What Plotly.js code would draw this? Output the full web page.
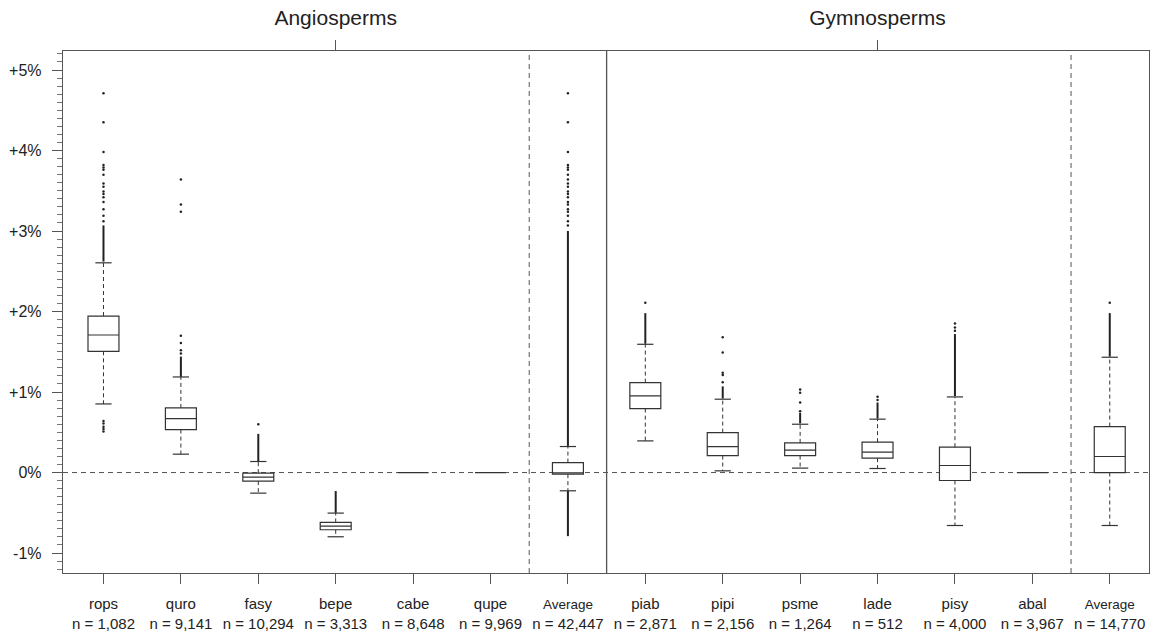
<!DOCTYPE html>
<html>
<head>
<meta charset="utf-8">
<script src="https://cdn.plot.ly/plotly-3.0.1.min.js"></script>
<style>html,body{margin:0;padding:0;background:#fff;}#chart{width:1155px;height:637px;}</style>
</head>
<body>
<div id="chart"></div>
<script>
// ---- data (percent) ----
const categories = ['rops','quro','fasy','bepe','cabe','qupe','Average','piab','pipi','psme','lade','pisy','abal','Average'];
const sampleSizes = ['1,082','9,141','10,294','3,313','8,648','9,969','42,447','2,871','2,156','1,264','512','4,000','3,967','14,770'];
const groupNames = ['Angiosperms','Gymnosperms'];
const groupCenters = [4, 11];
const q1Values     = [1.506, 0.534, -0.107, -0.711, 0, 0, -0.020, 0.794, 0.211, 0.211, 0.179, -0.099, 0, 0.000];
const medianValues = [1.708, 0.670, -0.057, -0.665, 0, 0, -0.003, 0.952, 0.323, 0.278, 0.253, 0.087, 0, 0.199];
const q3Values     = [1.944, 0.803, -0.008, -0.620, 0, 0, 0.124, 1.117, 0.496, 0.368, 0.377, 0.315, 0, 0.571];
const lowerWhisker = [0.852, 0.228, -0.256, -0.798, 0, 0, -0.227, 0.393, 0.021, 0.055, 0.050, -0.658, 0, -0.658];
const upperWhisker = [2.605, 1.187, 0.137, -0.504, 0, 0, 0.323, 1.593, 0.911, 0.600, 0.663, 0.939, 0, 1.432];
// single outliers
const outlierPoints = [
  [4.71, 4.35, 3.98, 3.82, 3.79, 3.76, 3.70, 3.59, 3.55, 3.49, 3.46, 3.42, 3.36, 3.27, 3.19, 3.12, 0.64, 0.61, 0.57, 0.54, 0.51],
  [3.64, 3.33, 3.24, 1.70, 1.61, 1.52, 1.48],
  [0.60],
  [],
  [],
  [],
  [4.71, 4.35, 3.98, 3.82, 3.79, 3.76, 3.70, 3.64, 3.59, 3.55, 3.49, 3.46, 3.42, 3.36, 3.33, 3.27, 3.24, 3.19, 3.12, 3.07],
  [2.11],
  [1.68, 1.49, 1.24, 1.21, 1.12],
  [1.03, 0.99, 0.87, 0.76],
  [0.94, 0.90],
  [1.85, 1.80, 1.76],
  [],
  [2.11]
];
// dense runs of outliers that merge into a solid streak: [from, to]
const outlierRuns = [
  [[2.62, 3.07]],
  [[1.19, 1.44]],
  [[0.14, 0.48]],
  [[-0.50, -0.23]],
  [],
  [],
  [[0.33, 3.00], [-0.79, -0.23]],
  [[1.60, 1.98]],
  [[0.92, 1.07]],
  [[0.61, 0.74]],
  [[0.67, 0.87]],
  [[0.95, 1.72]],
  [],
  [[1.44, 1.98]]
];
const yTickValues = [-1, 0, 1, 2, 3, 4, 5];
const yTickLabels = ['-1%', '0%', '+1%', '+2%', '+3%', '+4%', '+5%'];

// ---- build traces ----
const pos = categories.map((_, i) => i + 1);
const capHalf = 0.105;
const ink = '#333';

const wx = [], wy = [], cx = [], cy = [];
pos.forEach((p, i) => {
  if (upperWhisker[i] > q3Values[i]) {
    wx.push(p, p, null); wy.push(q3Values[i], upperWhisker[i], null);
    cx.push(p - capHalf, p + capHalf, null); cy.push(upperWhisker[i], upperWhisker[i], null);
  }
  if (lowerWhisker[i] < q1Values[i]) {
    wx.push(p, p, null); wy.push(q1Values[i], lowerWhisker[i], null);
    cx.push(p - capHalf, p + capHalf, null); cy.push(lowerWhisker[i], lowerWhisker[i], null);
  }
});
const ox = [], oy = [];
outlierPoints.forEach((arr, i) => arr.forEach(v => { ox.push(pos[i]); oy.push(v); }));
const rx = [], ry = [];
outlierRuns.forEach((runs, i) => runs.forEach(r => { rx.push(pos[i], pos[i], null); ry.push(r[0], r[1], null); }));

const traces = [
  {type: 'scatter', mode: 'lines', x: wx, y: wy, line: {color: ink, width: 1, dash: '4px,3px'}, hoverinfo: 'skip', showlegend: false},
  {type: 'scatter', mode: 'lines', x: cx, y: cy, line: {color: ink, width: 1.2}, hoverinfo: 'skip', showlegend: false},
  {type: 'box', x: pos, q1: q1Values, median: medianValues, q3: q3Values,
   lowerfence: q1Values, upperfence: q3Values, width: 0.4, boxpoints: false,
   fillcolor: '#ffffff', line: {color: ink, width: 1.2}, hoverinfo: 'skip', showlegend: false},
  {type: 'scatter', mode: 'lines', x: rx, y: ry, line: {color: '#222', width: 2}, hoverinfo: 'skip', showlegend: false},
  {type: 'scatter', mode: 'markers', x: ox, y: oy, marker: {color: '#222', size: 2.5}, hoverinfo: 'skip', showlegend: false},
  {type: 'scatter', mode: 'markers', x: groupCenters, y: [null, null], xaxis: 'x2', marker: {opacity: 0}, hoverinfo: 'skip', showlegend: false}
];

const tickText = categories.map((c, i) => {
  const name = c === 'Average' ? '<span style="font-size:13.5px">' + c + '</span>' : c;
  return name + '<br>n = ' + sampleSizes[i];
});

const xr = [0.477, 14.507];
const frame = '#555';
const layout = {
  width: 1155, height: 637,
  margin: {l: 63, r: 6, t: 51, b: 64},
  paper_bgcolor: '#fff', plot_bgcolor: '#fff',
  font: {family: '"Liberation Sans", Arial, sans-serif', color: '#222', size: 15},
  showlegend: false,
  xaxis: {
    range: xr, tickmode: 'array', tickvals: pos, ticktext: tickText,
    ticks: 'outside', ticklen: 10, tickcolor: frame, tickwidth: 1,
    showline: true, linecolor: frame, linewidth: 1.3, mirror: true,
    showgrid: false, zeroline: false, tickfont: {size: 15}, ticklabelstandoff: 7
  },
  xaxis2: {
    overlaying: 'x', side: 'top', range: xr, tickmode: 'array', tickvals: groupCenters, ticktext: groupNames,
    ticks: 'outside', ticklen: 10, tickcolor: frame, showline: false, showgrid: false, zeroline: false,
    tickfont: {size: 21}, ticklabelstandoff: 7
  },
  yaxis: {
    range: [-1.248, 5.236], tickmode: 'array', tickvals: yTickValues, ticktext: yTickLabels,
    ticks: 'outside', ticklen: 10, tickcolor: frame, tickwidth: 1,
    minor: {tickmode: 'linear', tick0: 0, dtick: 0.1, ticks: 'outside', ticklen: 5, tickcolor: '#777', showgrid: false},
    showline: true, linecolor: frame, linewidth: 1.3, mirror: true,
    showgrid: false, zeroline: false, tickfont: {size: 16}, ticklabelstandoff: 7
  },
  shapes: [
    {type: 'line', xref: 'paper', yref: 'y', x0: 0, x1: 1, y0: 0, y1: 0, line: {color: frame, width: 1, dash: '5px,4px'}, layer: 'below'},
    {type: 'line', xref: 'x', yref: 'paper', x0: 6.5, x1: 6.5, y0: 0, y1: 1, line: {color: frame, width: 1, dash: '5px,4px'}, layer: 'below'},
    {type: 'line', xref: 'x', yref: 'paper', x0: 13.5, x1: 13.5, y0: 0, y1: 1, line: {color: frame, width: 1, dash: '5px,4px'}, layer: 'below'},
    {type: 'line', xref: 'x', yref: 'paper', x0: 7.5, x1: 7.5, y0: 0, y1: 1, line: {color: frame, width: 1.3}, layer: 'below'}
  ]
};

Plotly.newPlot('chart', traces, layout, {displayModeBar: false, staticPlot: true});
</script>
</body>
</html>
